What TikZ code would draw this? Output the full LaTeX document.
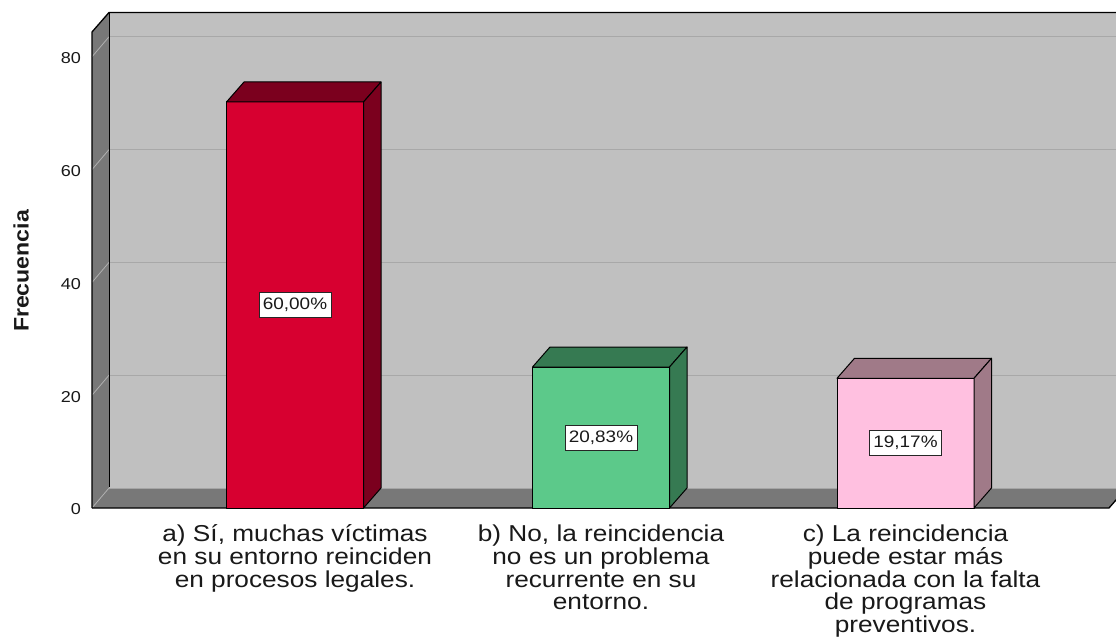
\documentclass[tikz,border=0pt]{standalone}
\usepackage{fontspec}
\newfontfamily\chartfont[FakeStretch=1.14]{Liberation Sans}
\newfontfamily\titlefont[FakeStretch=1.1]{Liberation Sans}
\definecolor{wallback}{RGB}{192,192,192}
\definecolor{wallside}{RGB}{120,120,120}
\definecolor{gridc}{RGB}{168,168,168}
\definecolor{gridside}{RGB}{176,176,176}
\definecolor{redfront}{RGB}{215,0,48}
\definecolor{redside}{RGB}{123,0,30}
\definecolor{greenfront}{RGB}{92,201,138}
\definecolor{greenside}{RGB}{54,122,82}
\definecolor{pinkfront}{RGB}{255,192,224}
\definecolor{pinkside}{RGB}{160,122,136}
\definecolor{txt}{RGB}{25,25,25}
\tikzset{
  edge/.style={black, line width=1.3pt},
  barline/.style={draw=black, line width=1pt, line join=round},
  pctlabel/.style={draw=black!85, line width=1pt, fill=white, text=txt,
    minimum width=72pt, minimum height=25pt, inner sep=0pt,
    font=\chartfont\fontsize{16.6}{16.6}\selectfont},
  ticklabel/.style={anchor=east, inner sep=0pt, text=txt,
    font=\chartfont\fontsize{15.8}{15.8}\selectfont},
  catlabel/.style={anchor=base, align=center, inner sep=0pt, text=txt,
    font=\chartfont\fontsize{23}{22.7}\selectfont},
}
\begin{document}
\begin{tikzpicture}[x=1pt,y=-1pt]
\clip (0,0) rectangle (1116,639);
\fill[white] (0,0) rectangle (1116,639);
% back wall
\fill[wallback] (109,12.5) rectangle (1130,488);
\foreach \v in {20,40,60,80}{
  \pgfmathsetmacro\yy{488-\v*5.64}
  \draw[gridc, line width=1pt] (109,\yy) -- (1130,\yy);
}
% left wall and floor
\fill[wallside] (92,508) -- (92,32) -- (109,12.5) -- (109,488) -- cycle;
\fill[wallside] (92,508) -- (1109,508) -- (1126.4,488) -- (109,488) -- cycle;
\foreach \v in {20,40,60,80}{
  \pgfmathsetmacro\yf{508-\v*5.64}
  \pgfmathsetmacro\yb{488-\v*5.64}
  \draw[gridside, line width=0.8pt] (92,\yf) -- (109,\yb);
}
\draw[gridside, line width=0.8pt] (92,508) -- (109,488);
\draw[gridside!80!wallside, line width=0.6pt] (109,488) -- (1126.4,488);
% edges
\draw[edge] (92,508) -- (92,32) -- (109,12.5) -- (1130,12.5);
\draw[edge] (109.5,12.5) -- (109.5,487);
\draw[edge] (92,508) -- (1109,508) -- (1126.4,488);
% bars
\foreach \cx/\top/\fc/\sc/\nm/\pct in {295/102/redfront/redside/pa/{60,00\%},
                                       601/367/greenfront/greenside/pb/{20,83\%},
                                       905.5/378.3/pinkfront/pinkside/pc/{19,17\%}}{
  \filldraw[barline, fill=\fc] (\cx-68.5,\top) rectangle (\cx+68.5,508);
  \filldraw[barline, fill=\sc] (\cx-68.5,\top) -- (\cx-51,\top-20) -- (\cx+86,\top-20) -- (\cx+68.5,\top) -- cycle;
  \filldraw[barline, fill=\sc] (\cx+68.5,\top) -- (\cx+86,\top-20) -- (\cx+86,488) -- (\cx+68.5,508) -- cycle;
  \node[pctlabel] (\nm) at (\cx,{(\top+508)/2}) {\pct};
}
% tick labels
\foreach \v in {0,20,40,60,80}{
  \node[ticklabel] (t\v) at (81,{508-\v*5.64+1.5}) {\v};
}
% axis title
\node[rotate=90, inner sep=0pt, text=txt, font=\titlefont\bfseries\fontsize{21}{21}\selectfont] (ytitle) at (21,271) {Frecuencia};
% category labels (anchored at the baseline of their last line)
\node[catlabel] (ca) at (295,587.1) {a) Sí, muchas víctimas\\en su entorno reinciden\\en procesos legales.};
\node[catlabel] (cb) at (601,609.8) {b) No, la reincidencia\\no es un problema\\recurrente en su\\entorno.};
\node[catlabel] (cc) at (905.5,632.5) {c) La reincidencia\\puede estar más\\relacionada con la falta\\de programas\\preventivos.};
\end{tikzpicture}
\end{document}
